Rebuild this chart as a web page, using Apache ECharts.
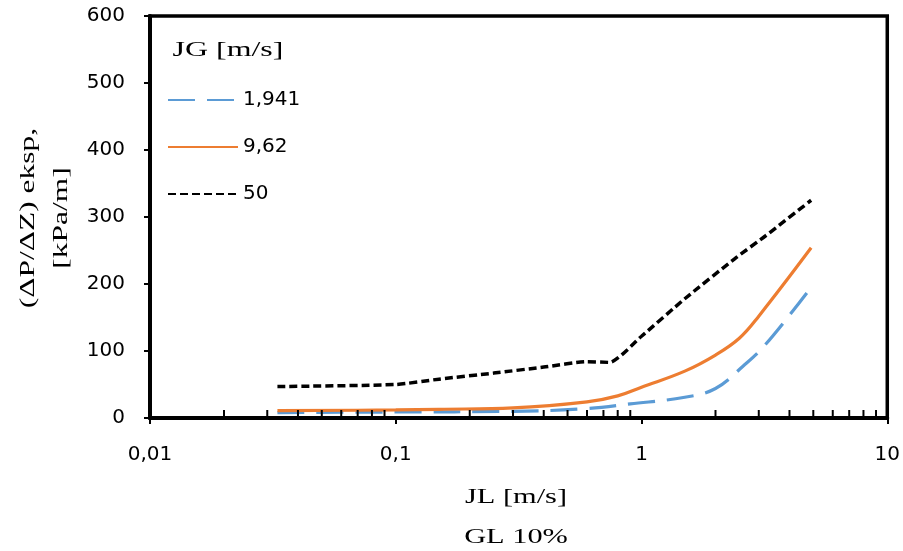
<!DOCTYPE html>
<html>
<head>
<meta charset="utf-8">
<script src="https://cdn.jsdelivr.net/npm/echarts@6/dist/echarts.min.js"></script>
<style>
  html, body { margin: 0; padding: 0; background: #fff; overflow: hidden; }
  #chart { width: 903px; height: 551px; }
</style>
</head>
<body>
<div id="chart"></div>
<script>
// ---- data ----
const seriesNames = ['1,941', '9,62', '50'];

const jl_1941 = [0.033, 0.1, 0.3, 0.6, 0.9, 1.5, 2.0, 2.6, 3.2, 4.9];
const dp_1941 = [8, 9, 10, 14, 21, 31, 44, 78, 110, 195];

const jl_962 = [0.033, 0.1, 0.15, 0.3, 0.6, 0.8, 1.0, 1.5, 2.0, 2.5, 3.0, 4.9];
const dp_962 = [11, 12, 13, 15, 24, 33, 46, 70, 94, 119, 152, 254];

const jl_50 = [0.033, 0.1, 0.15, 0.25, 0.4, 0.6, 0.74, 1.0, 1.5, 2.4, 3.2, 4.9];
const dp_50 = [47, 50, 58, 67, 76, 84, 83, 122, 178, 238, 272, 325];

const xTickValues = [0.01, 0.1, 1, 10];
const xTickLabels = ['0,01', '0,1', '1', '10'];
const xMinorTicks = [0.02, 0.03, 0.04, 0.05, 0.06, 0.07, 0.08, 0.09,
                     0.2, 0.3, 0.4, 0.5, 0.6, 0.7, 0.8, 0.9,
                     2, 3, 4, 5, 6, 7, 8, 9];
const yMin = 0, yMax = 600, yStep = 100;

// ---- chart ----
const zip = (xs, ys) => xs.map((x, i) => [x, ys[i]]);
const sansFont = 'DejaVu Sans';
const serifFont = 'Liberation Serif';

const chart = echarts.init(document.getElementById('chart'), null, { renderer: 'canvas' });

function serifText(txt, x, y, sx, extra) {
  return Object.assign({
    type: 'text', x: x, y: y, scaleX: sx,
    style: {
      text: txt, fontFamily: serifFont, fontSize: 22, fontWeight: 'normal', fontStyle: 'normal',
      fill: '#000', align: 'center', verticalAlign: 'middle'
    }
  }, extra || {});
}

const yTitle = serifText('(ΔP/ΔZ) eksp,\n[kPa/m]', 45, 218, 1.43, { rotation: Math.PI / 2 });
yTitle.style.lineHeight = 33;

const xTitle = serifText('JL [m/s]\nGL 10%', 516, 517, 1.38);
xTitle.style.lineHeight = 40;

const option = {
  animation: false,
  backgroundColor: '#ffffff',
  grid: {
    left: 150, right: 15, top: 16, bottom: 133,
    show: true, borderColor: '#000', borderWidth: 3.5, backgroundColor: 'transparent'
  },
  legend: {
    data: seriesNames,
    orient: 'vertical',
    left: 167, top: 90,
    padding: 0,
    itemWidth: 70, itemHeight: 4, itemGap: 27,
    itemStyle: { opacity: 0 },
    textStyle: { fontFamily: sansFont, fontSize: 20, color: '#000' }
  },
  xAxis: {
    type: 'log', logBase: 10, min: 0.01, max: 10,
    axisLine: { show: true, lineStyle: { color: '#000', width: 4 } },
    axisTick: { show: true, length: 6, lineStyle: { color: '#000', width: 2 } },
    minorTick: { show: false },
    splitLine: { show: false },
    axisLabel: {
      fontFamily: sansFont, fontSize: 20, color: '#000', margin: 27,
      formatter: function (v) {
        for (let i = 0; i < xTickValues.length; i++) {
          if (Math.abs(Math.log10(v) - Math.log10(xTickValues[i])) < 1e-6) return xTickLabels[i];
        }
        return '';
      }
    }
  },
  yAxis: {
    type: 'value', min: yMin, max: yMax, interval: yStep,
    axisLine: { show: true, lineStyle: { color: '#000', width: 4 } },
    axisTick: { show: true, length: 6, lineStyle: { color: '#000', width: 2 } },
    splitLine: { show: false },
    axisLabel: { fontFamily: sansFont, fontSize: 20, color: '#000', margin: 25 }
  },
  series: [
    {
      name: seriesNames[0], type: 'line', data: zip(jl_1941, dp_1941),
      symbol: 'none', smooth: 0.4,
      lineStyle: { color: '#5B9BD5', width: 3.2, type: [27, 12], cap: 'butt' },
      itemStyle: { color: '#5B9BD5' }, z: 3
    },
    {
      name: seriesNames[1], type: 'line', data: zip(jl_962, dp_962),
      symbol: 'none', smooth: 0.4,
      lineStyle: { color: '#ED7D31', width: 3.2, type: 'solid' },
      itemStyle: { color: '#ED7D31' }, z: 4
    },
    {
      name: seriesNames[2], type: 'line', data: zip(jl_50, dp_50),
      symbol: 'none', smooth: 0.2,
      lineStyle: { color: '#000000', width: 3.5, type: [8, 4], cap: 'butt' },
      itemStyle: { color: '#000000' }, z: 5
    },
    {
      name: 'minorTicks', type: 'custom', silent: true, z: 6,
      data: xMinorTicks.map(v => [v, yMin]),
      renderItem: function (params, api) {
        const p = api.coord([api.value(0), yMin]);
        return {
          type: 'line',
          shape: { x1: p[0], y1: p[1], x2: p[0], y2: p[1] - 8 },
          style: { stroke: '#000', lineWidth: 2 }
        };
      }
    }
  ],
  graphic: [
    serifText('JG [m/s]', 228, 50, 1.45),
    yTitle,
    xTitle
  ]
};

chart.setOption(option);
</script>
</body>
</html>
